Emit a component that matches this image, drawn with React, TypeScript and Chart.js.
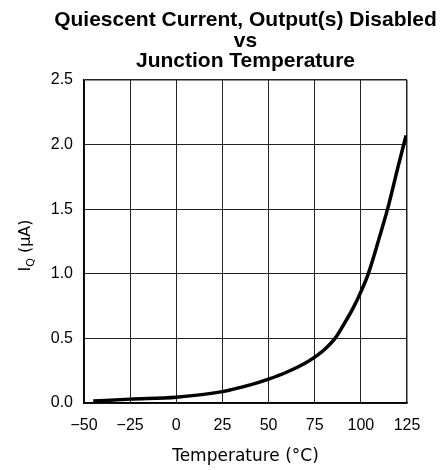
import React, { useEffect, useRef } from "react";
import { Chart, registerables } from "chart.js";

Chart.register(...registerables);

// Junction temperature (°C) and quiescent current (µA)
const temperatures = [-45, -25, 0, 25, 40, 50, 60, 70, 75, 80, 86, 90, 96, 100, 104, 110, 115, 120, 124.5];
const currents = [0.015, 0.03, 0.045, 0.088, 0.14, 0.185, 0.24, 0.31, 0.355, 0.41, 0.5, 0.59, 0.74, 0.86, 1.0, 1.28, 1.53, 1.82, 2.07];

const titleLines = ["Quiescent Current, Output(s) Disabled", "vs", "Junction Temperature"];
const xAxisTitle = "Temperature (°C)";
const yAxisMain = "I";
const yAxisSub = "Q";
const yAxisUnit = " (\u03BCA)";

const xMin = -50;
const xMax = 125;
const xStep = 25;
const yMin = 0;
const yMax = 2.5;
const yStep = 0.5;

const textPlugin = {
  id: "customTexts",
  afterDraw(chart: any) {
    const ctx = chart.ctx as CanvasRenderingContext2D;
    const { top, bottom, left, right } = chart.chartArea;

    // chart title, centred over the plot area
    ctx.save();
    ctx.fillStyle = "#000";
    ctx.textAlign = "center";
    ctx.textBaseline = "alphabetic";
    ctx.font = 'bold 21px "Liberation Sans", Arial, sans-serif';
    const cx = (left + right) / 2;
    const lineGap = 20.6;
    const lastBaseline = top - 12.7;
    titleLines.forEach((line, i) => {
      ctx.fillText(line, cx, lastBaseline - (titleLines.length - 1 - i) * lineGap);
    });
    ctx.restore();

    // y axis title with subscript
    const mainFont = '16px "DejaVu Sans"';
    const subFont = '11px "DejaVu Sans"';
    ctx.save();
    ctx.font = mainFont;
    const wI = ctx.measureText(yAxisMain).width;
    const wU = ctx.measureText(yAxisUnit).width;
    ctx.font = subFont;
    const wQ = ctx.measureText(yAxisSub).width;
    const total = wI + wQ + wU;
    ctx.translate(30, (top + bottom) / 2 + 4);
    ctx.rotate(-Math.PI / 2);
    ctx.fillStyle = "#000";
    ctx.textBaseline = "alphabetic";
    ctx.textAlign = "left";
    let x = -total / 2;
    ctx.font = mainFont;
    ctx.fillText(yAxisMain, x, 0);
    x += wI;
    ctx.font = subFont;
    ctx.fillText(yAxisSub, x, 4);
    x += wQ;
    ctx.font = mainFont;
    ctx.fillText(yAxisUnit, x, 0);
    ctx.restore();
  },
};

export default function App() {
  const canvasRef = useRef<HTMLCanvasElement | null>(null);

  useEffect(() => {
    if (!canvasRef.current) return;
    const chart = new Chart(canvasRef.current, {
      type: "line",
      data: {
        datasets: [
          {
            data: temperatures.map((t, i) => ({ x: t, y: currents[i] })),
            borderColor: "#000",
            borderWidth: 3.5,
            pointRadius: 0,
            fill: false,
            cubicInterpolationMode: "monotone",
          },
        ],
      },
      options: {
        animation: false,
        responsive: true,
        maintainAspectRatio: false,
        layout: { padding: { left: 44, right: 33, top: 80, bottom: 0 } },
        plugins: {
          legend: { display: false },
          tooltip: { enabled: false },
          title: { display: false },
        },
        scales: {
          x: {
            type: "linear",
            min: xMin,
            max: xMax,
            afterFit: (s: any) => {
              s.height = 67;
            },
            ticks: {
              stepSize: xStep,
              color: "#000",
              padding: 13,
              maxRotation: 0,
              font: { family: '"Liberation Sans", Arial, sans-serif', size: 16 },
              callback: (v: any) => String(v).replace("-", "\u2212"),
            },
            grid: {
              color: "#222",
              lineWidth: (c: any) => (c.tick && c.tick.value === xMax ? 1.5 : 1),
              drawTicks: false,
            },
            border: { display: true, color: "#000", width: 1.5 },
            title: {
              display: true,
              text: xAxisTitle,
              color: "#000",
              font: { family: '"DejaVu Sans", sans-serif', size: 17, lineHeight: 1.2 },
              padding: { top: 0, bottom: 3 },
            },
          },
          y: {
            type: "linear",
            min: yMin,
            max: yMax,
            afterFit: (s: any) => {
              s.width = 40;
            },
            ticks: {
              stepSize: yStep,
              color: "#000",
              padding: 11,
              font: { family: '"Liberation Sans", Arial, sans-serif', size: 16 },
              callback: (v: any) => Number(v).toFixed(1),
            },
            grid: {
              color: "#222",
              lineWidth: (c: any) => (c.tick && c.tick.value === yMax ? 1.5 : 1),
              drawTicks: false,
            },
            border: { display: true, color: "#000", width: 1.5 },
          },
        },
      },
      plugins: [textPlugin],
    });
    return () => chart.destroy();
  }, []);

  return (
    <div style={{ position: "absolute", left: 0, top: 0, width: 440, height: 470, background: "#fff" }}>
      <canvas ref={canvasRef} />
    </div>
  );
}
